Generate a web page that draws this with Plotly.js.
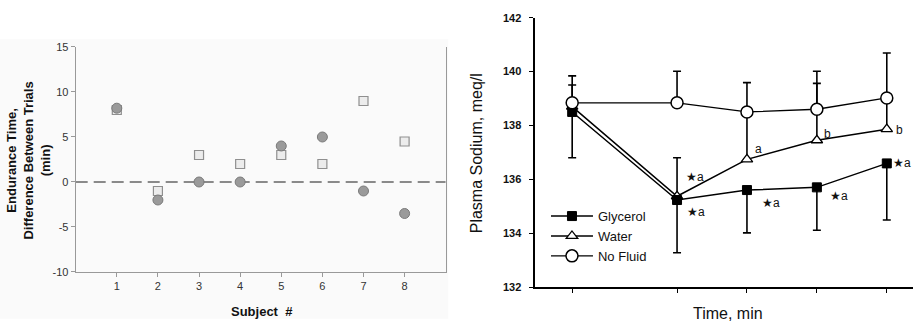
<!DOCTYPE html>
<html>
<head>
<meta charset="utf-8">
<script src="https://cdn.plot.ly/plotly-3.0.1.min.js"></script>
<style>html,body{margin:0;padding:0;background:#fff;}#chart{width:913px;height:327px;}</style>
</head>
<body>
<div id="chart"></div>
<script>
// ---- Left panel data ----
const subjects = [1, 2, 3, 4, 5, 6, 7, 8];
const squareDiff = [8, -1, 3, 2, 3, 2, 9, 4.5];
const circleDiff = [8.2, -2, 0, 0, 4, 5, -1, -3.5];
const leftYTicks = [-10, -5, 0, 5, 10, 15];
const leftYTickText = ['-10', '-5', '0', '5', '10', '15'];

// ---- Right panel data ----
const timeMin = [0, 60, 100, 140, 180];
const glycerol = [138.5, 135.23, 135.6, 135.7, 136.59];
const glycerolErrDown = [1.7, 1.96, 1.59, 1.59, 2.1];
const water = [138.7, 135.37, 136.74, 137.45, 137.86];
const waterErrUp = [0.8, 1.43, 1.8, 2.11, 1.2];
const noFluid = [138.84, 138.84, 138.5, 138.6, 139.02];
const noFluidErrUp = [1.0, 1.17, 1.09, 1.41, 1.67];
const rightYTicks = [132, 134, 136, 138, 140, 142];
const seriesNames = ['Glycerol', 'Water', 'No Fluid'];

// significance labels
const sigTime = [60, 60, 100, 100, 140, 140, 180, 180];
const sigValue = [136.1, 134.8, 137.12, 135.13, 137.7, 135.39, 137.82, 136.6];
const sigText = ['★a', '★a', 'a', '★a', 'b', '★a', 'b', '★a'];
const sigShift = [7, 8, 6, 13, 5, 11, 7, 4];

const traces = [
  {x: subjects, y: squareDiff, type: 'scatter', mode: 'markers', xaxis: 'x', yaxis: 'y', showlegend: false,
   marker: {symbol: 'square', size: 9, color: '#ececec', line: {color: '#8f8f8f', width: 1.2}}},
  {x: subjects, y: circleDiff, type: 'scatter', mode: 'markers', xaxis: 'x', yaxis: 'y', showlegend: false,
   marker: {symbol: 'circle', size: 10, color: '#9a9a9a', line: {color: '#7a7a7a', width: 1}}},
  {x: timeMin, y: water, name: seriesNames[1], legendrank: 2, type: 'scatter', mode: 'lines+markers', xaxis: 'x2', yaxis: 'y2',
   line: {color: '#000', width: 1.5},
   marker: {symbol: 'triangle-up', size: 10, color: '#fff', line: {color: '#000', width: 1.3}},
   error_y: {type: 'data', symmetric: false, array: waterErrUp, arrayminus: [0,0,0,0,0], color: '#000', thickness: 1.6, width: 4}},
  {x: timeMin, y: glycerol, name: seriesNames[0], legendrank: 1, type: 'scatter', mode: 'lines+markers', xaxis: 'x2', yaxis: 'y2',
   line: {color: '#000', width: 1.5},
   marker: {symbol: 'square', size: 9, color: '#000', line: {color: '#000', width: 1}},
   error_y: {type: 'data', symmetric: false, array: [0,0,0,0,0], arrayminus: glycerolErrDown, color: '#000', thickness: 1.6, width: 4}},
  {x: timeMin, y: noFluid, name: seriesNames[2], legendrank: 3, type: 'scatter', mode: 'lines+markers', xaxis: 'x2', yaxis: 'y2',
   line: {color: '#000', width: 1.3},
   marker: {symbol: 'circle', size: 12, color: '#fff', line: {color: '#000', width: 1.5}},
   error_y: {type: 'data', symmetric: false, array: noFluidErrUp, arrayminus: [0,0,0,0,0], color: '#000', thickness: 1.6, width: 4}}
];

const annotations = [
  {xref: 'paper', yref: 'paper', x: 0.031, y: 0.51, xanchor: 'center', yanchor: 'middle',
   text: 'Endurance Time,<br>Difference Between Trials<br>(min)',
   textangle: -90, showarrow: false, font: {family: 'Arial, Liberation Sans', size: 13, color: '#111', weight: 'bold'}},
  {xref: 'paper', yref: 'paper', x: 0.287, y: 0.048, xanchor: 'center', yanchor: 'middle', text: 'Subject  #', showarrow: false,
   font: {family: 'Arial, Liberation Sans', size: 13, color: '#111', weight: 'bold'}},
  {xref: 'paper', yref: 'paper', x: 0.522, y: 0.53, xanchor: 'center', yanchor: 'middle', text: 'Plasma Sodium, meq/l', textangle: -90, showarrow: false,
   font: {family: 'Arial, Liberation Sans', size: 16, color: '#111'}},
  {xref: 'paper', yref: 'paper', x: 0.797, y: 0.042, xanchor: 'center', yanchor: 'middle', text: 'Time, min', showarrow: false,
   font: {family: 'Arial, Liberation Sans', size: 16, color: '#111'}}
];
for (let i = 0; i < sigText.length; i++) {
  annotations.push({xref: 'x2', yref: 'y2', x: sigTime[i], y: sigValue[i], text: sigText[i], showarrow: false,
    xanchor: 'left', xshift: sigShift[i], font: {family: 'Arial, Liberation Sans', size: 12, color: '#111'}});
}

const layout = {
  width: 913, height: 327,
  margin: {l: 0, r: 0, t: 0, b: 0},
  paper_bgcolor: '#fff', plot_bgcolor: 'rgba(0,0,0,0)',
  showlegend: true,
  legend: {x: 0.598, y: 0.385, xanchor: 'left', yanchor: 'top', bgcolor: 'rgba(0,0,0,0)', itemwidth: 42,
    font: {family: 'Arial, Liberation Sans', size: 13, color: '#111'}, traceorder: 'normal', tracegroupgap: 0},
  xaxis: {domain: [0.0829, 0.4882], range: [0, 9], tickvals: subjects, ticks: 'outside', ticklen: 4, tickcolor: '#999',
    showline: true, linecolor: '#999', linewidth: 1, mirror: false, showgrid: false, zeroline: false,
    tickfont: {family: 'Arial, Liberation Sans', size: 11, color: '#333'}, fixedrange: true},
  yaxis: {domain: [0.1682, 0.8563], range: [-10, 15], tickvals: leftYTicks, ticktext: leftYTickText, ticks: 'outside', ticklen: 4, tickcolor: '#999',
    showline: true, linecolor: '#999', linewidth: 1, showgrid: false, zeroline: false,
    tickfont: {family: 'Arial, Liberation Sans', size: 11, color: '#333'}},
  yaxis3: {overlaying: 'y', side: 'right', anchor: 'x', range: [-10, 15], showline: true, linecolor: '#999', linewidth: 1,
    showticklabels: false, ticks: '', showgrid: false, zeroline: false},
  xaxis2: {domain: [0.5865, 1], range: [-21, 195], tickvals: timeMin, showticklabels: false, ticks: 'outside', ticklen: 4,
    tickcolor: '#000', showline: true, linecolor: '#000', linewidth: 2, showgrid: false, zeroline: false, anchor: 'y2'},
  yaxis2: {domain: [0.1223, 0.9459], range: [132, 142], tickvals: rightYTicks, ticks: 'outside', ticklen: 4, tickcolor: '#000',
    ticklabelstandoff: 6,
    showline: true, linecolor: '#000', linewidth: 2, showgrid: false, zeroline: false, anchor: 'x2',
    tickfont: {family: 'Arial, Liberation Sans', size: 11, color: '#111', weight: 'bold'}},
  shapes: [
    {type: 'rect', xref: 'paper', yref: 'paper', x0: 0, x1: 0.491, y0: 0.025, y1: 0.88, fillcolor: '#fafafa', line: {width: 0}, layer: 'below'},
    {type: 'line', xref: 'x', yref: 'y', x0: 0, x1: 9, y0: 0, y1: 0, line: {color: '#8a8a8a', width: 2, dash: '12px,6px'}, layer: 'below'}
  ],
  annotations: annotations
};

traces.push({x: [0], y: [0], xaxis: 'x', yaxis: 'y3', mode: 'markers', marker: {opacity: 0}, showlegend: false, hoverinfo: 'skip'});

Plotly.newPlot('chart', traces, layout, {displayModeBar: false, staticPlot: true});
</script>
</body>
</html>
